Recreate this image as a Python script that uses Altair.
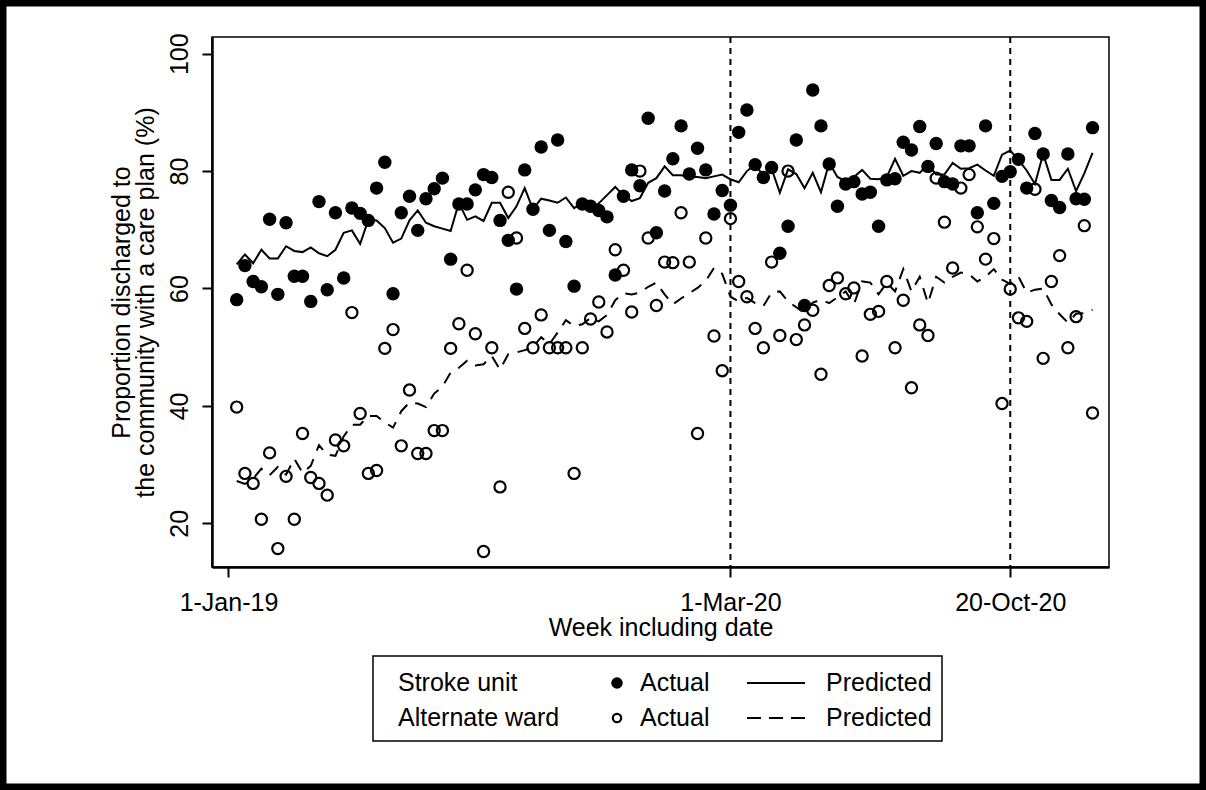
import altair as alt
import pandas as pd

# Weekly series (week 0 = first week of January 2019)
weeks = list(range(105))

stroke_actual = [
    58.1, 63.9, 61.2, 60.3, 71.8, 59.0, 71.2, 62.1, 62.1, 57.8,
    74.8, 59.8, 72.9, 61.8, 73.7, 72.8, 71.6, 77.1, 81.5, 59.1,
    72.9, 75.7, 69.9, 75.3, 77.0, 78.8, 65.0, 74.4, 74.4, 76.8,
    79.4, 78.9, 71.6, 68.2, 59.9, 80.2, 73.5, 84.1, 69.9, 85.3,
    68.0, 60.4, 74.4, 74.0, 73.3, 72.2, 62.3, 75.7, 80.2, 77.5,
    89.0, 69.5, 76.6, 82.1, 87.7, 79.5, 83.9, 80.2, 72.7, 76.7,
    74.2, 86.6, 90.4, 81.1, 78.9, 80.6, 66.0, 70.6, 85.3, 57.1,
    93.8, 87.7, 81.2, 74.0, 77.8, 78.2, 76.1, 76.4, 70.6, 78.5,
    78.7, 84.9, 83.6, 87.6, 80.8, 84.7, 78.2, 77.8, 84.3, 84.3,
    72.9, 87.7, 74.5, 79.1, 79.9, 82.0, 77.1, 86.4, 82.9, 75.0,
    73.8, 82.9, 75.3, 75.2, 87.4,
]

stroke_pred = [
    64.1, 65.8, 64.3, 66.6, 65.1, 65.1, 67.2, 66.4, 66.2, 67.0,
    66.0, 65.5, 66.6, 69.5, 69.9, 67.6, 71.7, 71.6, 70.3, 67.8,
    68.5, 71.6, 73.3, 71.2, 70.6, 70.2, 69.8, 74.6, 71.7, 72.3,
    71.5, 74.6, 74.6, 72.0, 74.0, 77.1, 73.5, 75.3, 75.0, 74.6,
    75.5, 73.7, 74.6, 73.4, 74.5, 75.9, 77.3, 75.9, 74.9, 75.4,
    78.0, 78.8, 80.8, 79.3, 79.3, 79.0, 79.0, 78.8, 79.1, 79.4,
    78.6, 78.1, 80.0, 81.1, 79.2, 80.4, 76.3, 80.3, 79.5, 77.1,
    79.7, 76.4, 81.4, 79.0, 78.3, 79.0, 80.2, 78.7, 78.6, 79.0,
    82.1, 79.2, 80.0, 79.7, 81.2, 79.4, 79.4, 81.4, 80.4, 80.5,
    81.1, 80.1, 79.2, 82.8, 83.5, 81.9, 80.1, 77.8, 82.9, 78.5,
    78.5, 80.4, 76.6, 79.6, 83.1,
]

alt_actual = [
    39.8, 28.5, 26.8, 20.7, 32.0, 15.7, 28.0, 20.7, 35.3, 27.8,
    26.8, 24.8, 34.2, 33.2, 55.9, 38.7, 28.5, 29.0, 49.8, 53.0,
    33.2, 42.7, 31.9, 31.9, 35.8, 35.8, 49.8, 54.0, 63.1, 52.3,
    15.2, 49.9, 26.2, 76.4, 68.6, 53.2, 49.9, 55.5, 49.9, 49.9,
    49.9, 28.5, 49.9, 54.8, 57.7, 52.6, 66.6, 63.1, 56.0, 80.0,
    68.6, 57.1, 64.5, 64.4, 72.9, 64.5, 35.3, 68.6, 51.9, 46.0,
    71.9, 61.2, 58.6, 53.2, 49.9, 64.5, 52.0, 80.0, 51.3, 53.8,
    56.3, 45.4, 60.5, 61.8, 59.1, 60.1, 48.5, 55.6, 56.1, 61.2,
    49.9, 58.0, 43.1, 53.8, 52.0, 78.8, 71.3, 63.5, 77.1, 79.4,
    70.5, 65.0, 68.5, 40.4, 59.9, 55.0, 54.4, 76.9, 48.1, 61.2,
    65.6, 49.9, 55.2, 70.7, 38.8,
]

alt_pred = [
    27.2, 26.7, 27.6, 29.3, 28.2, 29.6, 28.3, 31.0, 28.6, 29.8,
    33.3, 31.7, 31.5, 34.8, 36.8, 36.8, 38.3, 38.3, 37.2, 36.3,
    39.1, 40.6, 40.4, 39.8, 42.1, 43.3, 45.7, 46.5, 47.7, 46.9,
    47.1, 48.5, 46.2, 48.8, 49.1, 49.5, 50.0, 51.7, 50.5, 52.5,
    54.6, 53.6, 53.9, 55.0, 54.4, 55.5, 58.0, 59.2, 59.0, 59.3,
    60.3, 61.0, 59.0, 57.3, 58.3, 59.2, 60.1, 61.3, 63.5, 62.5,
    58.6, 57.8, 58.4, 57.5, 57.0, 59.3, 59.5, 57.8, 56.8, 55.8,
    57.6, 58.1, 57.5, 58.5, 59.5, 57.3, 61.2, 61.0, 59.0, 61.0,
    59.5, 63.3, 59.5, 62.0, 57.5, 62.0, 61.0, 62.0, 62.7, 62.4,
    61.2, 62.0, 63.3, 61.5, 60.8, 62.0, 59.3, 59.8, 60.0, 57.3,
    55.6, 54.2, 55.7, 55.8, 56.4,
]

# Axis ticks and the two policy change weeks
tick_weeks = [-1, 60, 94]
tick_labels = ["1-Jan-19", "1-Mar-20", "20-Oct-20"]
policy_weeks = [60, 94]
y_ticks = [20, 40, 60, 80, 100]

FONT = "Liberation Sans"
FS = 25

df = pd.DataFrame({
    "week": weeks,
    "stroke_actual": stroke_actual,
    "stroke_pred": stroke_pred,
    "alt_actual": alt_actual,
    "alt_pred": alt_pred,
})

label_expr = " : ".join(
    f"datum.value == {w} ? '{lab}'" for w, lab in zip(tick_weeks[:-1], tick_labels[:-1])
) + f" : '{tick_labels[-1]}'"

x_enc = alt.X(
    "week:Q",
    scale=alt.Scale(domain=[-3, 106], nice=False, zero=False),
    axis=alt.Axis(
        values=tick_weeks, labelExpr=label_expr, title="Week including date",
        grid=False, tickSize=10, tickWidth=2, domainWidth=2.5, domainColor="black",
        tickColor="black", labelPadding=13, titlePadding=0, labelFlush=False,
    ),
)


def y_enc(field):
    return alt.Y(
        f"{field}:Q",
        scale=alt.Scale(domain=[12.56, 102.84], nice=False, zero=False),
        axis=alt.Axis(
            values=y_ticks, title=["Proportion discharged to", "the community with a care plan (%)"],
            grid=False, tickSize=10, tickWidth=2, domainWidth=2.5, domainColor="black",
            tickColor="black", labelAngle=270, labelAlign="center", labelBaseline="bottom",
            labelPadding=10, titlePadding=9, titleLineHeight=24,
        ),
    )


base = alt.Chart(df)

policy = alt.Chart(pd.DataFrame({"week": policy_weeks})).mark_rule(
    color="black", strokeWidth=2, strokeDash=[6, 5]
).encode(x=x_enc)

stroke_line = base.mark_line(color="black", strokeWidth=2).encode(x=x_enc, y=y_enc("stroke_pred"))
alt_line = base.mark_line(color="black", strokeWidth=2, strokeDash=[12, 9]).encode(
    x=x_enc, y=y_enc("alt_pred")
)
alt_pts = base.mark_point(
    shape="circle", filled=False, color="black", strokeWidth=2.2, size=125, opacity=1
).encode(x=x_enc, y=y_enc("alt_actual"))
stroke_pts = base.mark_circle(color="black", size=180, opacity=1).encode(
    x=x_enc, y=y_enc("stroke_actual")
)

# Legend panel below the plot
one = alt.Data(values=[{}])
lg_rows = [646, 681]
lg_box = alt.Chart(one).mark_rect(filled=False, stroke="black", strokeWidth=1.5).encode(
    x=alt.value(161), x2=alt.value(730), y=alt.value(619), y2=alt.value(704)
)
legend_layers = [lg_box]
for row_y, group, dash, filled in zip(
    lg_rows, ["Stroke unit", "Alternate ward"], [[1, 0], [14, 8]], [True, False]
):
    legend_layers.append(
        alt.Chart(one).mark_text(text=group, align="left", baseline="middle", font=FONT, fontSize=FS, color="black")
        .encode(x=alt.value(186), y=alt.value(row_y))
    )
    if filled:
        sym = alt.Chart(one).mark_circle(color="black", size=135, opacity=1)
    else:
        sym = alt.Chart(one).mark_point(shape="circle", filled=False, color="black", strokeWidth=2.2, size=70, opacity=1)
    legend_layers.append(sym.encode(x=alt.value(405), y=alt.value(row_y)))
    legend_layers.append(
        alt.Chart(one).mark_text(text="Actual", align="left", baseline="middle", font=FONT, fontSize=FS, color="black")
        .encode(x=alt.value(428), y=alt.value(row_y))
    )
    legend_layers.append(
        alt.Chart(one).mark_rule(color="black", strokeWidth=2, strokeDash=dash)
        .encode(x=alt.value(535), x2=alt.value(593), y=alt.value(row_y))
    )
    legend_layers.append(
        alt.Chart(one).mark_text(text="Predicted", align="left", baseline="middle", font=FONT, fontSize=FS, color="black")
        .encode(x=alt.value(614), y=alt.value(row_y))
    )

# Outer frame around the whole graphic
frame = alt.Chart(one).mark_rect(filled=False, stroke="black", strokeWidth=13).encode(
    x=alt.value(-212), x2=alt.value(994), y=alt.value(-37), y2=alt.value(753)
)

chart = alt.layer(
    policy, stroke_line, alt_line, alt_pts, stroke_pts, *legend_layers, frame
).properties(
    width=897, height=530,
    autosize=alt.AutoSizeParams(type="none"),
    padding={"left": 212, "top": 37, "right": 97, "bottom": 223},
    background="white",
).configure_view(
    stroke="black", strokeWidth=1.5
).configure_axis(
    labelFont=FONT, titleFont=FONT, labelFontSize=FS, titleFontSize=FS,
    labelColor="black", titleColor="black", titleFontWeight="normal",
)

chart.save("out.html", embed_options={"renderer": "svg", "actions": False})
